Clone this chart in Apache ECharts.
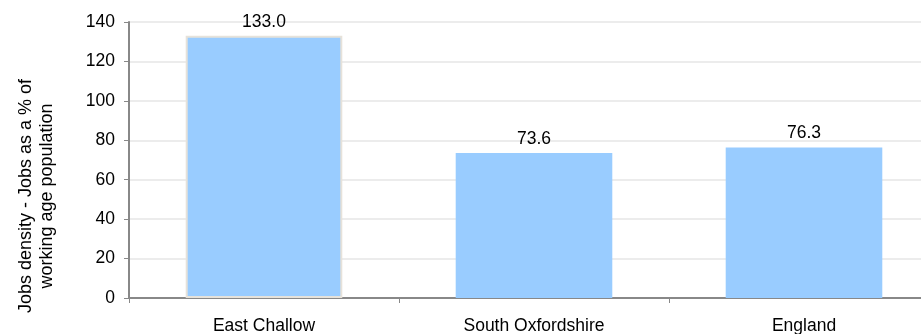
<!DOCTYPE html>
<html><head><meta charset="utf-8">
<script src="https://cdn.jsdelivr.net/npm/echarts@6/dist/echarts.min.js"></script>
<style>html,body{margin:0;padding:0;background:#fff}#c{width:921px;height:334px}</style>
</head><body><div id="c"></div>
<script>
var categories = ['East Challow', 'South Oxfordshire', 'England'];
var values = [133.0, 73.6, 76.3];
var yTicks = [0, 20, 40, 60, 80, 100, 120, 140];
var yName = 'Jobs density - Jobs as a % of\nworking age population';

var chart = echarts.init(document.getElementById('c'));
chart.setOption({
  animation: false,
  textStyle: {fontFamily: 'Liberation Sans, Arial, sans-serif'},
  grid: {left: 129, top: 22, bottom: 36, width: 810, containLabel: false, outerBoundsMode: 'none'},
  xAxis: {
    type: 'category', data: categories,
    axisLine: {lineStyle: {color: '#888', width: 2}},
    axisTick: {show: true, length: 5, lineStyle: {color: '#888'}},
    axisLabel: {color: '#000', fontSize: 17.5, margin: 19}
  },
  yAxis: {
    type: 'value', min: yTicks[0], max: yTicks[yTicks.length - 1], interval: 20,
    name: yName, nameLocation: 'middle', nameGap: 71, nameRotate: 90,
    nameTextStyle: {color: '#000', fontSize: 18, lineHeight: 21, padding: [0, 72, 0, 0]},
    axisLine: {show: true, lineStyle: {color: '#888', width: 2}},
    axisTick: {show: true, length: 5, lineStyle: {color: '#888'}},
    axisLabel: {color: '#000', fontSize: 17.5, margin: 14},
    splitLine: {lineStyle: {color: '#ececec', width: 2}}
  },
  series: [{
    type: 'bar', data: values.map(function (v, i) {
      return i === 0 ? {value: v, itemStyle: {borderColor: '#e6e2da', borderWidth: 2}} : v;
    }),
    barWidth: '58%',
    itemStyle: {color: '#99ccff'},
    label: {show: true, position: 'top', distance: 5, color: '#000', fontSize: 17.5,
      formatter: function (p) { return p.value.toFixed(1); }}
  }]
});
</script></body></html>
